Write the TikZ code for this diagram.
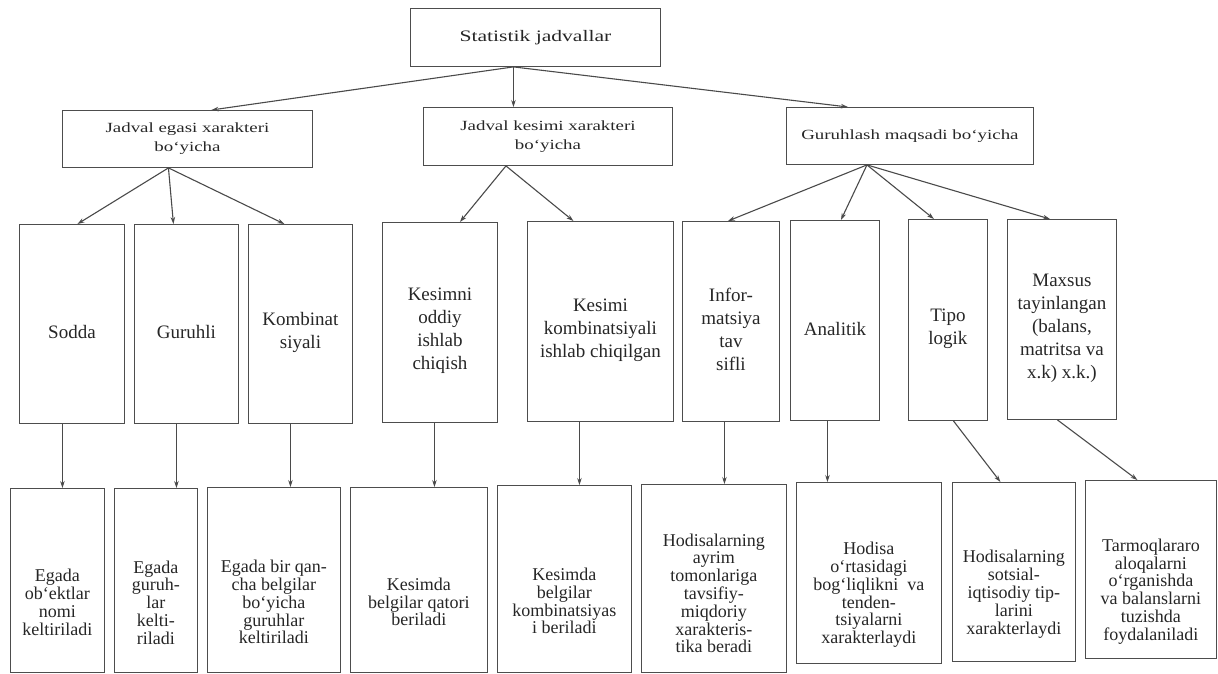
\documentclass[tikz,border=0pt]{standalone}
\usepackage{fontspec}
\setmainfont{Liberation Serif}
\newfontfamily\widefont{Liberation Serif}[FakeStretch=1.35]
\usetikzlibrary{arrows.meta}
\definecolor{boxline}{HTML}{4D4D4D}
\definecolor{inkgray}{HTML}{262626}
\definecolor{linkgray}{HTML}{4A4A4A}

\tikzset{every picture/.style={line width=0.9pt}}
\tikzset{
  tabbox/.style={draw=boxline, anchor=north west, inner sep=0pt, align=center, text=inkgray},
  headbox/.style={tabbox, font=\widefont\fontsize{16}{19}\selectfont},
  groupbox/.style={tabbox, font=\widefont\fontsize{14}{19}\selectfont},
  kindbox/.style={tabbox, font=\fontsize{19}{23}\selectfont, text height=#1},
  kindbox/.default=29.5pt,
  notebox/.style={tabbox, font=\fontsize{18}{17.8}\selectfont, text height=#1},
  notebox/.default=110pt,
  link/.style={draw=linkgray, line width=1.1pt, -{Stealth[length=7pt,width=4.5pt]}}
}

\begin{document}
\begin{tikzpicture}[x=1pt,y=-1pt]
	\useasboundingbox (0,0) rectangle (1218,673);
	% top
	\node[headbox, minimum width=250pt, minimum height=58pt] (top) at (410,8) {Statistik jadvallar};
	% groups
	\node[groupbox, minimum width=250pt, minimum height=57pt] (grpA) at (62,110) {Jadval egasi xarakteri\\bo‘yicha};
	\node[groupbox, minimum width=249pt, minimum height=58pt] (grpB) at (423,107) {Jadval kesimi xarakteri\\bo‘yicha};
	\node[groupbox, minimum width=247pt, minimum height=57pt] (grpC) at (786,107) {Guruhlash maqsadi bo‘yicha};
	% kinds
	\node[kindbox, minimum width=105pt, minimum height=199pt] (sodda) at (19,224) {Sodda};
	\node[kindbox, minimum width=104pt, minimum height=199pt] (guruhli) at (134,224) {Guruhli};
	\node[kindbox=52.5pt, minimum width=104pt, minimum height=199pt] (kombin) at (248,224) {Kombinat\\siyali};
	\node[kindbox=98.5pt, minimum width=115pt, minimum height=200pt] (kesimni) at (382,222) {Kesimni\\oddiy\\ishlab\\chiqish};
	\node[kindbox=75.5pt, minimum width=146pt, minimum height=200pt] (kesimi) at (527,221) {Kesimi\\kombinatsiyali\\ishlab chiqilgan};
	\node[kindbox=98.5pt, minimum width=97pt, minimum height=200pt] (inform) at (682,221) {Infor-\\matsiya\\tav\\sifli};
	\node[kindbox, minimum width=89pt, minimum height=200pt] (analitik) at (790,220) {Analitik};
	\node[kindbox=52.5pt, minimum width=79pt, minimum height=201pt] (tipo) at (908,219) {Tipo\\logik};
	\node[kindbox=121.5pt, minimum width=109pt, minimum height=200pt] (maxsus) at (1007,219) {Maxsus\\tayinlangan\\(balans,\\matritsa va\\x.k) x.k.)};
	% notes
	\node[notebox, minimum width=94pt, minimum height=184pt] (nomi) at (10,488) {Egada\\ob‘ektlar\\nomi\\keltiriladi};
	\node[notebox=128pt, minimum width=83pt, minimum height=184pt] (guruhlar) at (114,488) {Egada\\guruh-\\lar\\kelti-\\riladi};
	\node[notebox=128pt, minimum width=133pt, minimum height=185pt] (belgilar) at (207,487) {Egada bir qan-\\cha belgilar\\bo‘yicha\\guruhlar\\keltiriladi};
	\node[notebox=92pt, minimum width=137pt, minimum height=185pt] (qatori) at (350,487) {Kesimda\\belgilar qatori\\beriladi};
	\node[notebox, minimum width=134pt, minimum height=187pt] (kombnote) at (497,485) {Kesimda\\belgilar\\kombinatsiyas\\i beriladi};
	\node[notebox=149pt, minimum width=145pt, minimum height=188pt] (tavsif) at (641,484) {Hodisalarning\\ayrim\\tomonlariga\\tavsifiy-\\miqdoriy\\xarakteris-\\tika beradi};
	\node[notebox=145.5pt, minimum width=145pt, minimum height=181pt] (bogliq) at (796,482) {Hodisa\\o‘rtasidagi\\bog‘liqlikni\ \ va\\tenden-\\tsiyalarni\\xarakterlaydi};
	\node[notebox=128pt, minimum width=123pt, minimum height=179pt] (tiplar) at (952,482) {Hodisalarning\\sotsial-\\iqtisodiy tip-\\larini\\xarakterlaydi};
	\node[notebox=145.5pt, minimum width=131pt, minimum height=178pt] (tarmoq) at (1085,480) {Tarmoqlararo\\aloqalarni\\o‘rganishda\\va balanslarni\\tuzishda\\foydalaniladi};
	% top -> groups
	\draw[link] ([xshift=-22pt]top.south) -- ([xshift=24pt]grpA.north);
	\draw[link] ([xshift=-22pt]top.south) -- ([xshift=-22pt]top.south |- grpB.north);
	\draw[link] ([xshift=-22pt]top.south) -- ([xshift=-62pt]grpC.north);
	% groups -> kinds
	\draw[link] ([xshift=-19pt]grpA.south) -- ([xshift=5.5pt]sodda.north);
	\draw[link] ([xshift=-19pt]grpA.south) -- ([xshift=-13pt]guruhli.north);
	\draw[link] ([xshift=-19pt]grpA.south) -- ([xshift=-16pt]kombin.north);
	\draw[link] ([xshift=-42pt]grpB.south) -- ([xshift=20pt]kesimni.north);
	\draw[link] ([xshift=-42pt]grpB.south) -- ([xshift=-27pt]kesimi.north);
	\draw[link] ([xshift=-43pt]grpC.south) -- ([xshift=-3pt]inform.north);
	\draw[link] ([xshift=-43pt]grpC.south) -- ([xshift=6pt]analitik.north);
	\draw[link] ([xshift=-43pt]grpC.south) -- ([xshift=-14pt]tipo.north);
	\draw[link] ([xshift=-43pt]grpC.south) -- ([xshift=-12pt]maxsus.north);
	% kinds -> notes
	\draw[link] ([xshift=-9.5pt]sodda.south) -- ([xshift=-9.5pt]sodda.south |- nomi.north);
	\draw[link] ([xshift=-10pt]guruhli.south) -- ([xshift=-10pt]guruhli.south |- guruhlar.north);
	\draw[link] ([xshift=-10pt]kombin.south) -- ([xshift=-10pt]kombin.south |- belgilar.north);
	\draw[link] ([xshift=-5.5pt]kesimni.south) -- ([xshift=-5.5pt]kesimni.south |- qatori.north);
	\draw[link] ([xshift=-21pt]kesimi.south) -- ([xshift=-21pt]kesimi.south |- kombnote.north);
	\draw[link] ([xshift=-6.5pt]inform.south) -- ([xshift=-6.5pt]inform.south |- tavsif.north);
	\draw[link] ([xshift=-7.5pt]analitik.south) -- ([xshift=-7.5pt]analitik.south |- bogliq.north);
	\draw[link] ([xshift=5.5pt]tipo.south) -- ([xshift=-13.5pt]tiplar.north);
	\draw[link] ([xshift=-4.5pt]maxsus.south) -- ([xshift=-13.5pt]tarmoq.north);
\end{tikzpicture}
\end{document}
